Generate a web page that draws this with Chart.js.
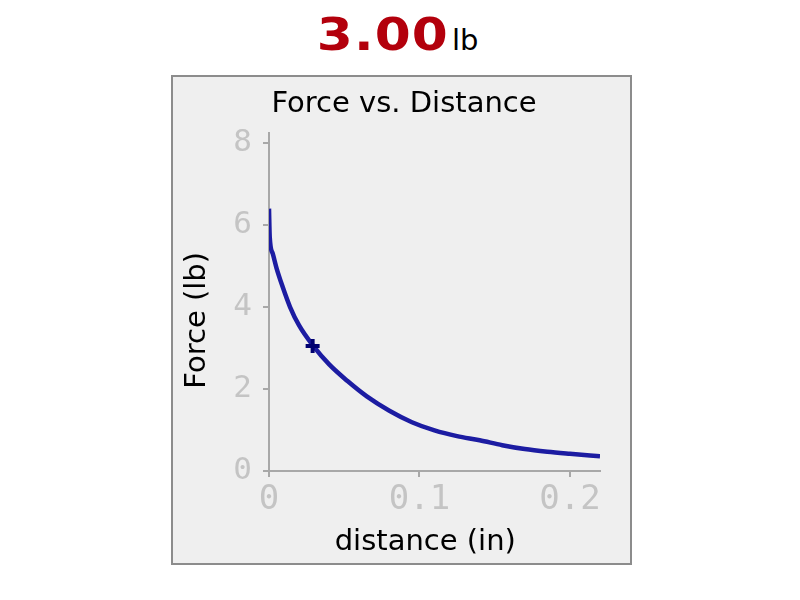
<!DOCTYPE html>
<html>
<head>
<meta charset="utf-8">
<script src="https://cdn.jsdelivr.net/npm/chart.js@4/dist/chart.umd.min.js"></script>
<style>
  html, body { margin:0; padding:0; background:#ffffff; width:800px; height:600px; overflow:hidden; }
  #hdr { position:absolute; left:0; top:0; width:800px; height:70px; }
  #hdr .v { position:absolute; right:351px; top:12px; font-family:"DejaVu Sans", sans-serif; font-weight:bold; font-size:45px; line-height:1; color:#b3000c; letter-spacing:1px; transform:scaleX(1.15); transform-origin:right center; white-space:nowrap; }
  #hdr .u { position:absolute; left:452px; top:25.5px; font-family:"DejaVu Sans", sans-serif; font-size:29px; line-height:1; color:#000; white-space:nowrap; }
  #box { position:absolute; left:171px; top:75px; width:457px; height:486px; border:2px solid #8c8c8c; background:#efefef; }
  #c { position:absolute; left:0; top:0; }
</style>
</head>
<body>
<div id="hdr"><span class="v">3.00</span> <span class="u">lb</span></div>
<div id="box"></div>
<canvas id="c" width="800" height="600"></canvas>
<script>
// ---- data ----
const chartTitle = "Force vs. Distance";
const xAxisTitle = "distance (in)";
const yAxisTitle = "Force (lb)";
const distance = [0, 0.0005, 0.0025, 0.005, 0.009, 0.014, 0.020, 0.029, 0.040, 0.052, 0.065, 0.080, 0.095, 0.110, 0.125, 0.140, 0.155, 0.170, 0.185, 0.200, 0.220];
const force    = [6.4, 5.7, 5.3, 4.95, 4.5, 4.0, 3.55, 3.07, 2.6, 2.2, 1.82, 1.47, 1.19, 0.99, 0.85, 0.75, 0.63, 0.535, 0.47, 0.42, 0.36];
const markerDistance = [0.029];
const markerForce = [3.05];
const xTickValues = [0, 0.1, 0.2];
const yTickValues = [0, 2, 4, 6, 8];

const curve = distance.map((d, i) => ({ x: d, y: force[i] }));
const marker = markerDistance.map((d, i) => ({ x: d, y: markerForce[i] }));

const axisGray = '#a8a8a8';
const tickGray = '#c4c4c4';

function keepTicks(values) {
  return function (scale) {
    scale.ticks = values.map(v => ({ value: v }));
  };
}

new Chart(document.getElementById('c'), {
  type: 'line',
  data: {
    datasets: [
      {
        data: curve,
        borderColor: '#1c1ca2',
        borderWidth: 4.5,
        pointRadius: 0,
        cubicInterpolationMode: 'monotone',
        fill: false,
        order: 2
      },
      {
        data: marker,
        showLine: false,
        pointStyle: 'cross',
        pointRadius: 7,
        pointBorderWidth: 4,
        pointBorderColor: '#000070',
        pointBackgroundColor: '#000070',
        order: 1
      }
    ]
  },
  options: {
    responsive: false,
    animation: false,
    devicePixelRatio: 1,
    layout: { padding: { left: 175, right: 167, top: 80, bottom: 38 } },
    plugins: {
      legend: { display: false },
      tooltip: { enabled: false },
      title: {
        display: true,
        text: chartTitle,
        color: '#000',
        font: { family: 'DejaVu Sans', size: 29, weight: 'normal' },
        padding: { top: 7, bottom: 11 }
      }
    },
    scales: {
      x: {
        type: 'linear',
        position: 'bottom',
        min: 0,
        max: 0.22,
        afterBuildTicks: keepTicks(xTickValues),
        afterFit: s => { s.height = 91; },
        grid: { drawOnChartArea: false, drawTicks: true, tickLength: 6, color: axisGray, lineWidth: 2 },
        border: { display: true, color: axisGray, width: 2 },
        ticks: {
          color: tickGray,
          padding: 3,
          maxRotation: 0,
          font: { family: 'DejaVu Sans Mono', size: 34 },
          callback: v => String(Math.round(v * 10) / 10)
        },
        title: {
          display: true,
          text: xAxisTitle + '\u00a0\u00a0',
          color: '#000',
          font: { family: 'DejaVu Sans', size: 29 },
          padding: { top: 0, bottom: 2 }
        }
      },
      y: {
        type: 'linear',
        position: 'left',
        min: 0,
        max: 8.25,
        afterBuildTicks: keepTicks(yTickValues),
        afterFit: s => { s.width = 94; },
        grid: { drawOnChartArea: false, drawTicks: true, tickLength: 6, color: axisGray, lineWidth: 2 },
        border: { display: true, color: axisGray, width: 2 },
        ticks: {
          color: tickGray,
          padding: 11,
          font: { family: 'DejaVu Sans Mono', size: 31 }
        },
        title: {
          display: true,
          text: yAxisTitle + '\u00a0\u00a0\u00a0\u00a0',
          color: '#000',
          font: { family: 'DejaVu Sans', size: 29 },
          padding: { top: 5, bottom: 0 }
        }
      },
      yRight: {
        type: 'linear',
        position: 'right',
        display: true,
        min: 0,
        max: 8.25,
        afterFit: s => { s.width = 33; },
        grid: { display: false, drawTicks: false },
        border: { display: false },
        ticks: { display: false }
      }
    }
  }
});
</script>
</body>
</html>
